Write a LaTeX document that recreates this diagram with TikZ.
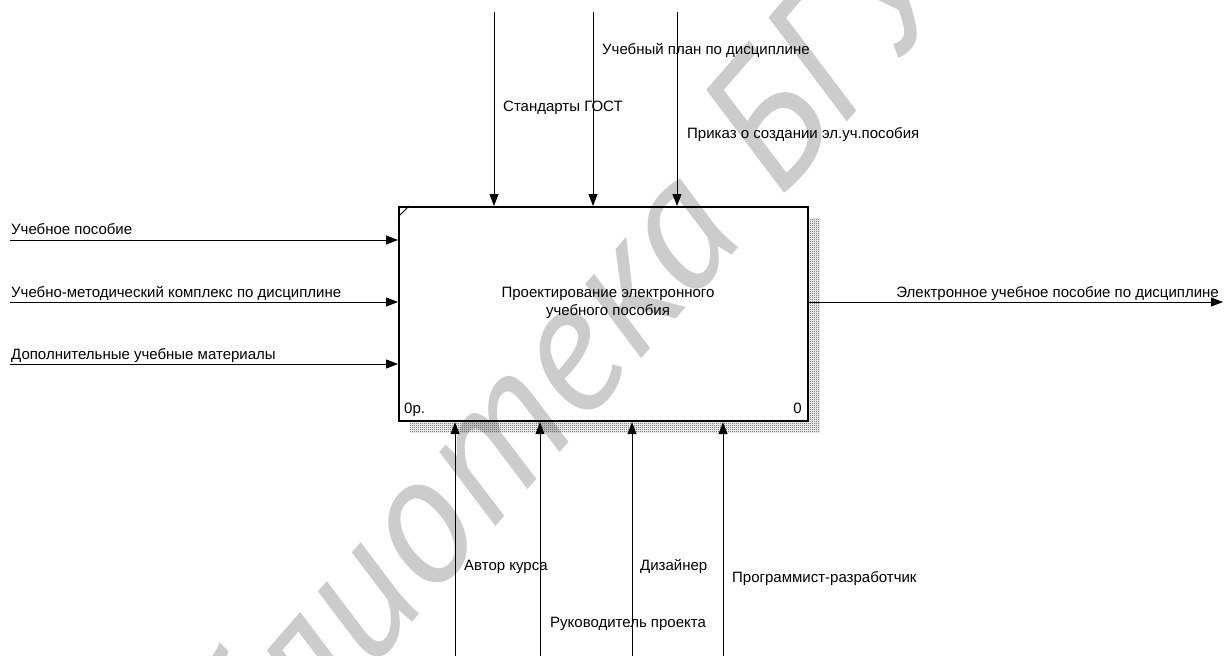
\documentclass[tikz,border=0pt]{standalone}
\usepackage{fontspec}
\setmainfont{Liberation Sans}
\newfontfamily\wmfont{PT Sans}
\usetikzlibrary{arrows.meta,patterns}
\pgfdeclarepatternformonly{fineck}{\pgfpointorigin}{\pgfqpoint{2pt}{2pt}}{\pgfqpoint{2pt}{2pt}}{%
 \pgfpathrectangle{\pgfpointorigin}{\pgfqpoint{1pt}{1pt}}%
 \pgfpathrectangle{\pgfqpoint{1pt}{1pt}}{\pgfqpoint{1pt}{1pt}}%
 \pgfusepath{fill}}
\begin{document}
\begin{tikzpicture}[x=1pt,y=-1pt,
  arr/.style={line width=1pt,-{Triangle[length=12pt,width=9pt]}},
  lbl/.style={inner sep=0pt,anchor=base west,font=\fontsize{15}{17}\selectfont},
  wmark/.style={rotate=49,anchor=base west,inner sep=0pt,text=black!20,font=\wmfont\itshape\fontsize{182}{190}\selectfont},
  shadowfill/.style={pattern=fineck,pattern color=black!75},
  fbox/.style={draw,line width=2.2pt,minimum width=409pt,minimum height=214pt,anchor=north west,inner sep=0pt}]
\useasboundingbox (0,0) rectangle (1224,656);
\fill[white] (0,0) rectangle (1224,656);
% watermark
\node[wmark] (wm) at (131,946) {Библиотека БГУ};
% shadow
\fill[shadowfill] (807,218) rectangle (820,432);
\fill[shadowfill] (410,420) rectangle (807,432);
% box
\node[fbox] (A0) at (398,206) {};
\draw[line width=1pt] ([yshift=-11pt]A0.north west) -- ([xshift=11pt]A0.north west);
\node[inner sep=0pt,align=center,font=\fontsize{15}{18}\selectfont] (A0t) at (608,303) {Проектирование электронного\\учебного пособия};
\node[lbl] (A0c) at (404,413) {0р.};
\node[lbl,anchor=base east] (A0n) at (802,413) {0};
% inputs
\coordinate (i1) at (10,240);
\coordinate (i2) at (10,302);
\coordinate (i3) at (10,364);
\draw[arr] (i1) -- (i1 -| A0.west);
\draw[arr] (i2) -- (i2 -| A0.west);
\draw[arr] (i3) -- (i3 -| A0.west);
\node[lbl] (li1) at (11,234) {Учебное пособие};
\node[lbl] (li2) at (11,297) {Учебно-методический комплекс по дисциплине};
\node[lbl] (li3) at (11,359) {Дополнительные учебные материалы};
% output
\coordinate (o1) at (1223,302);
\draw[arr] (A0.east |- o1) -- (o1);
\node[lbl,anchor=base east] (lo1) at (1219,297) {Электронное учебное пособие по дисциплине};
% controls
\coordinate (c1) at (494,12);
\coordinate (c2) at (593,12);
\coordinate (c3) at (677,12);
\draw[arr] (c1) -- (c1 |- A0.north);
\draw[arr] (c2) -- (c2 |- A0.north);
\draw[arr] (c3) -- (c3 |- A0.north);
\node[lbl] (lc1) at (503,111) {Стандарты ГОСТ};
\node[lbl] (lc2) at (602,54) {Учебный план по дисциплине};
\node[lbl] (lc3) at (687,138) {Приказ о создании эл.уч.пособия};
% mechanisms
\coordinate (m1) at (455,657);
\coordinate (m2) at (540,657);
\coordinate (m3) at (632,657);
\coordinate (m4) at (723,657);
\draw[arr] (m1) -- (m1 |- A0.south);
\draw[arr] (m2) -- (m2 |- A0.south);
\draw[arr] (m3) -- (m3 |- A0.south);
\draw[arr] (m4) -- (m4 |- A0.south);
\node[lbl] (lm1) at (464,570) {Автор курса};
\node[lbl] (lm2) at (550,627) {Руководитель проекта};
\node[lbl] (lm3) at (640,570) {Дизайнер};
\node[lbl] (lm4) at (732,582) {Программист-разработчик};
\end{tikzpicture}
\end{document}
